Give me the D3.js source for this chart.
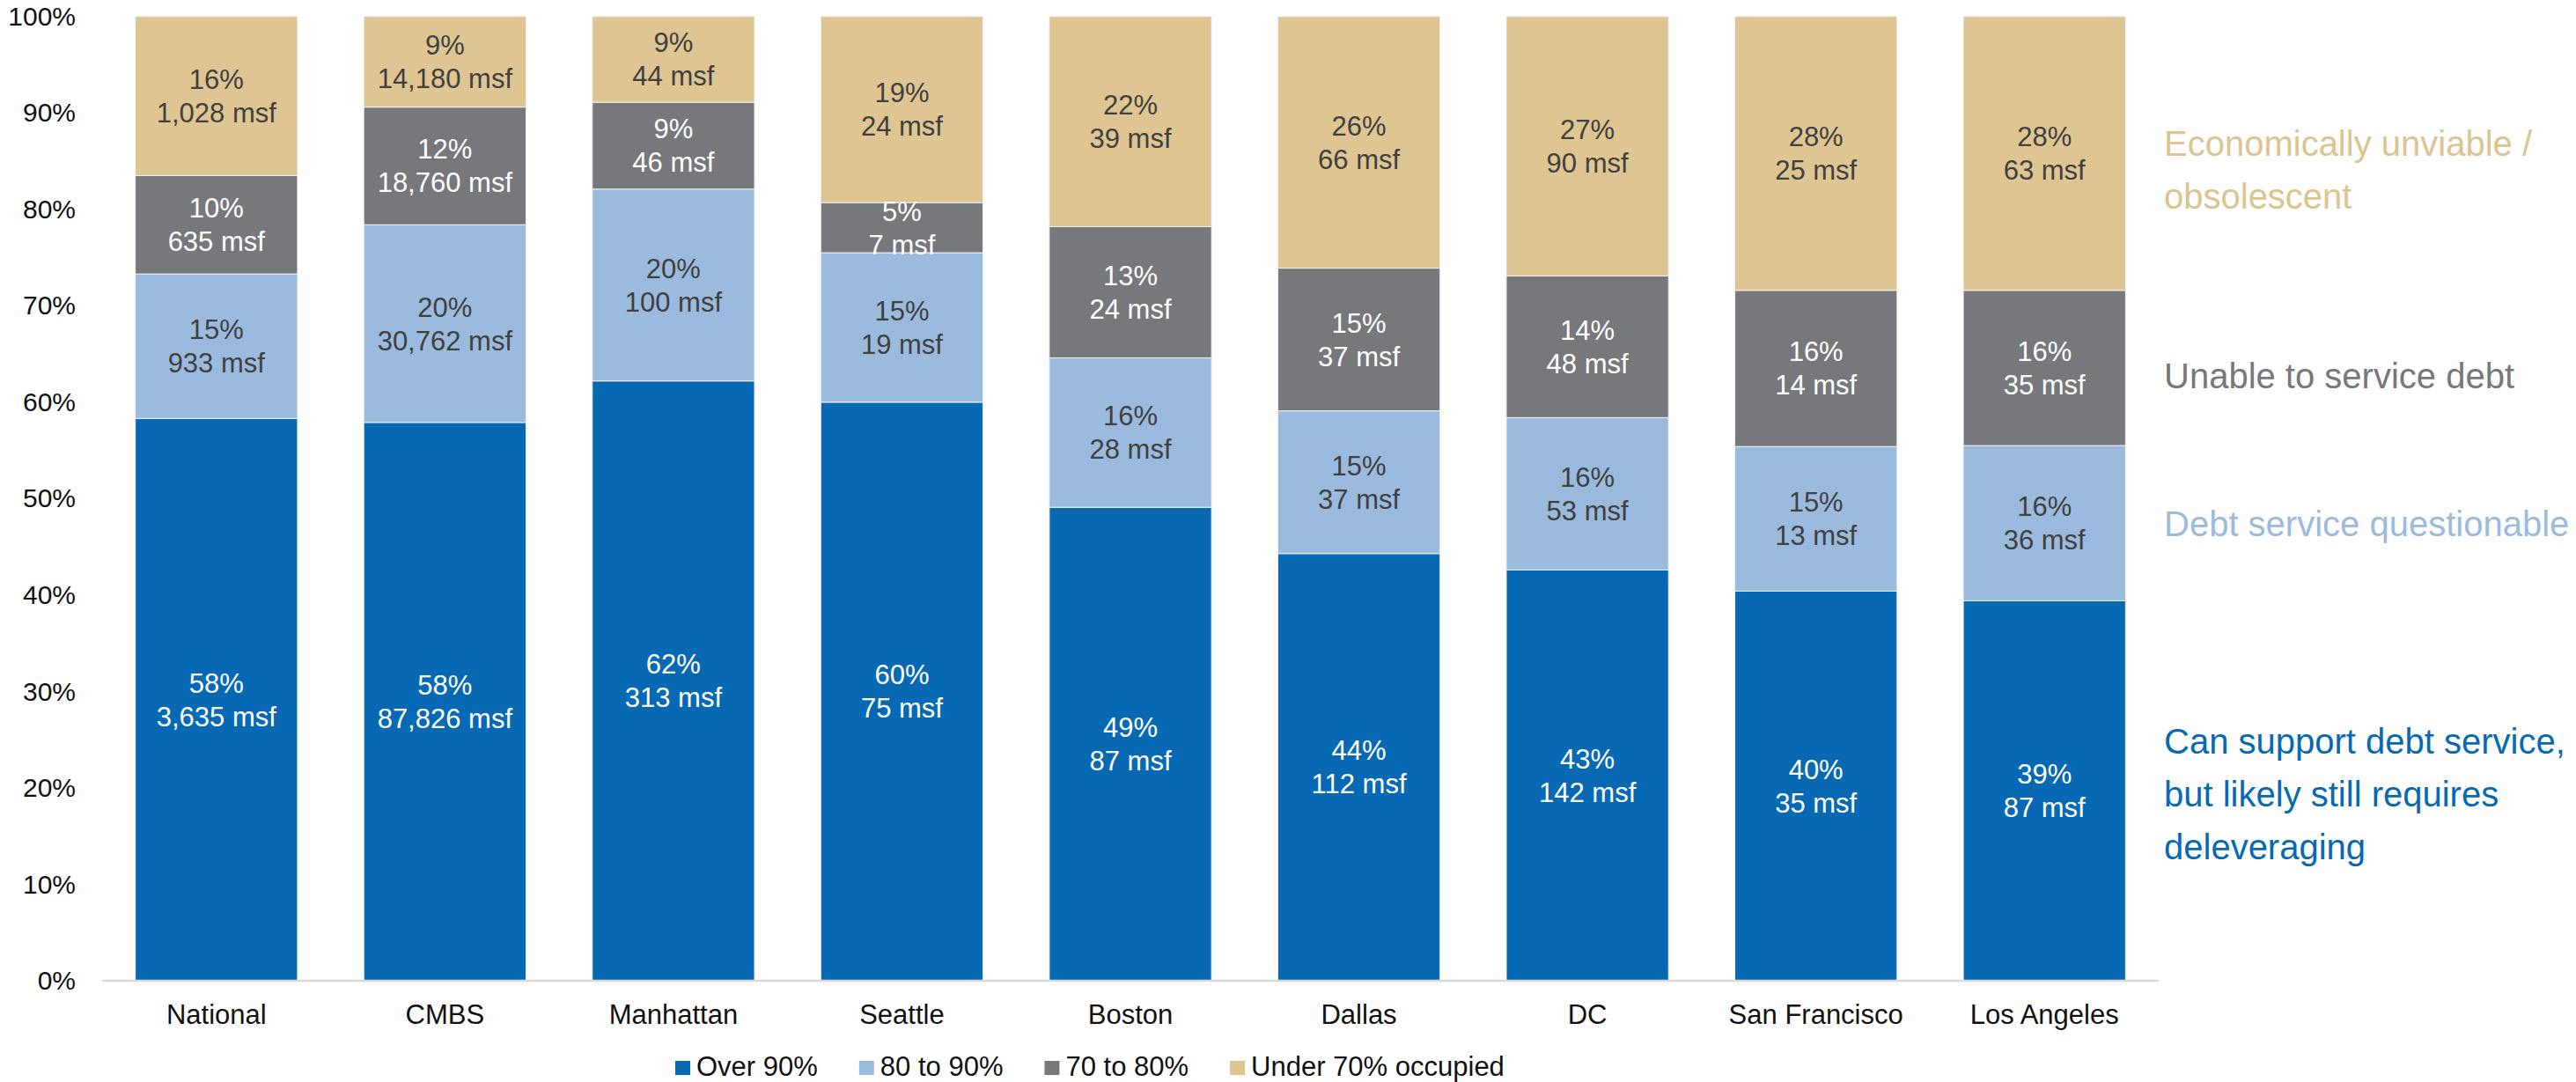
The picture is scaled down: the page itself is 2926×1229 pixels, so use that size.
<!DOCTYPE html>
<html>
<head>
<meta charset="utf-8">
<script src="https://cdn.jsdelivr.net/npm/d3@7"></script>
<style>
  body { margin: 0; background: #fff; }
  svg text { font-family: "Liberation Sans", Arial, sans-serif; }
</style>
</head>
<body>
<div id="chart"></div>
<script>
// values (share of each market, %)
const categories = ["National", "CMBS", "Manhattan", "Seattle", "Boston", "Dallas", "DC", "San Francisco", "Los Angeles"];
const over90   = [58.3, 57.9, 62.2, 60.0, 49.1, 44.3, 42.6, 40.4, 39.4];
const from80   = [15.0, 20.5, 19.9, 15.5, 15.5, 14.8, 15.8, 15.0, 16.1];
const from70   = [10.2, 12.2,  9.0,  5.2, 13.6, 14.8, 14.7, 16.2, 16.1];
const under70  = [16.5,  9.4,  8.9, 19.3, 21.8, 26.1, 26.9, 28.4, 28.4];

const pctOver90  = ["58%", "58%", "62%", "60%", "49%", "44%", "43%", "40%", "39%"];
const pctFrom80  = ["15%", "20%", "20%", "15%", "16%", "15%", "16%", "15%", "16%"];
const pctFrom70  = ["10%", "12%", "9%", "5%", "13%", "15%", "14%", "16%", "16%"];
const pctUnder70 = ["16%", "9%", "9%", "19%", "22%", "26%", "27%", "28%", "28%"];

const msfOver90  = ["3,635", "87,826", "313", "75", "87", "112", "142", "35", "87"];
const msfFrom80  = ["933", "30,762", "100", "19", "28", "37", "53", "13", "36"];
const msfFrom70  = ["635", "18,760", "46", "7", "24", "37", "48", "14", "35"];
const msfUnder70 = ["1,028", "14,180", "44", "24", "39", "66", "90", "25", "63"];

const seriesNames = ["Over 90%", "80 to 90%", "70 to 80%", "Under 70% occupied"];
const yTicks = [0, 10, 20, 30, 40, 50, 60, 70, 80, 90, 100];

const notes = [
    { lines: ["Economically unviable /", "obsolescent"], y: 177, color: "#dcc48f" },
    { lines: ["Unable to service debt"], y: 441, color: "#77787b" },
    { lines: ["Debt service questionable"], y: 609, color: "#9bbbde" },
    { lines: ["Can support debt service,", "but likely still requires", "deleveraging"], y: 856, color: "#0769b4" }
];

const colors = ["#0769b4", "#9bbbde", "#77787b", "#dec592"];
const labelColors = ["#fff", "#404040", "#fff", "#404040"];

const width = 2926, height = 1229;
const keys = ["over90", "from80", "from70", "under70"];

const rows = categories.map((c, i) => ({
    cat: c,
    over90: over90[i], from80: from80[i], from70: from70[i], under70: under70[i],
    labels: [
        [pctOver90[i], msfOver90[i]],
        [pctFrom80[i], msfFrom80[i]],
        [pctFrom70[i], msfFrom70[i]],
        [pctUnder70[i], msfUnder70[i]]
    ]
}));

const svg = d3.select("#chart").append("svg")
    .attr("width", width)
    .attr("height", height);

const x = d3.scaleBand()
    .domain(categories)
    .range([116, 2452])
    .paddingInner(0.29)
    .paddingOuter(0.145);

const y = d3.scaleLinear()
    .domain([0, 100])
    .range([1114, 18.7]);

const stacked = d3.stack().keys(keys)(rows);

// bars
const layers = svg.selectAll("g.layer")
    .data(stacked)
    .enter()
    .append("g")
    .attr("class", "layer")
    .attr("fill", (d, i) => colors[i]);

layers.selectAll("rect")
    .data(d => d)
    .enter()
    .append("rect")
    .attr("x", d => x(d.data.cat))
    .attr("y", d => y(d[1]))
    .attr("width", x.bandwidth())
    .attr("height", d => y(d[0]) - y(d[1]))
    .attr("stroke", "#eef2f6")
    .attr("stroke-width", 1);

// baseline
svg.append("line")
    .attr("x1", 116).attr("x2", 2452)
    .attr("y1", y(0)).attr("y2", y(0))
    .attr("stroke", "#d9d9d9")
    .attr("stroke-width", 2.5);

// data labels
stacked.forEach((layer, li) => {
    const g = svg.append("g")
        .attr("fill", labelColors[li])
        .attr("font-size", 31)
        .attr("text-anchor", "middle");
    layer.forEach(d => {
        const cx = x(d.data.cat) + x.bandwidth() / 2;
        const cy = (y(d[0]) + y(d[1])) / 2;
        const lab = d.data.labels[li];
        g.append("text").attr("x", cx).attr("y", cy - 8).text(lab[0]);
        g.append("text").attr("x", cx).attr("y", cy + 30).text(lab[1] + " msf");
    });
});

// y axis
const yAxis = svg.append("g")
    .attr("transform", "translate(86,0)")
    .call(d3.axisLeft(y).tickValues(yTicks).tickSize(0).tickPadding(0).tickFormat(d => d + "%"));
yAxis.select(".domain").remove();
yAxis.selectAll("text")
    .attr("font-size", 30)
    .attr("fill", "#111")
    .attr("font-family", "Liberation Sans, Arial, sans-serif");

// x axis
const xAxis = svg.append("g")
    .attr("transform", `translate(0,${y(0)})`)
    .call(d3.axisBottom(x).tickSize(0));
xAxis.select(".domain").remove();
xAxis.selectAll("text")
    .attr("y", 49)
    .attr("dy", 0)
    .attr("font-size", 31)
    .attr("fill", "#111")
    .attr("font-family", "Liberation Sans, Arial, sans-serif");

// legend
const legend = svg.append("g");
let lx = 767;
seriesNames.forEach((name, i) => {
    legend.append("rect")
        .attr("x", lx).attr("y", 1205)
        .attr("width", 17).attr("height", 16)
        .attr("fill", colors[i]);
    const t = legend.append("text")
        .attr("x", lx + 24).attr("y", 1222)
        .attr("font-size", 31)
        .attr("fill", "#111")
        .text(name);
    lx += 24 + t.node().getComputedTextLength() + 47;
});

// right-hand notes
notes.forEach(n => {
    const t = svg.append("text")
        .attr("x", 2458)
        .attr("font-size", 40)
        .attr("fill", n.color);
    n.lines.forEach((line, j) => {
        t.append("tspan")
            .attr("x", 2458)
            .attr("y", n.y + j * 60)
            .text(line);
    });
});
</script>
</body>
</html>
